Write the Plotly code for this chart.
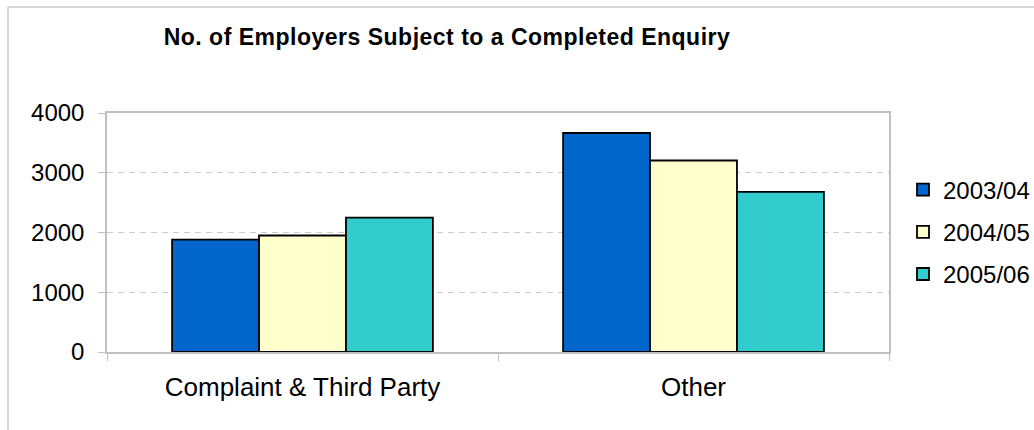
import plotly.graph_objects as go

categories = ["Complaint & Third Party", "Other"]
series_names = ["2003/04", "2004/05", "2005/06"]
values_2003 = [1880, 3665]
values_2004 = [1950, 3205]
values_2005 = [2250, 2680]
colors = ["#0066CC", "#FFFFCC", "#33CCCC"]
y_ticks = [0, 1000, 2000, 3000, 4000]
title_text = "No. of Employers Subject to a Completed Enquiry"

W, H = 1034, 430
L, R, T, B = 107, 889, 113, 352
FONT = "Liberation Sans, Arial, sans-serif"

fig = go.Figure()
for name, vals, col in zip(series_names, [values_2003, values_2004, values_2005], colors):
    fig.add_trace(go.Bar(
        x=categories, y=vals, name=name, legendgroup=name,
        marker=dict(color=col, line=dict(color="#000000", width=1.8)),
    ))

def px_x(p):
    return (p - L) / (R - L)

def px_y(p):
    return (B - p) / (B - T)

fig.update_layout(
    width=W, height=H,
    margin=dict(l=L, r=W - R, t=T, b=H - B, pad=0, autoexpand=False),
    paper_bgcolor="white", plot_bgcolor="white",
    barmode="group", bargap=0.333, bargroupgap=0,
    font=dict(family=FONT, size=24, color="#000000"),
    title=dict(text="<b>" + title_text + "</b>", x=px_x(447), xanchor="center",
               y=1 - 37 / H, yanchor="middle", xref="paper",
               font=dict(size=23, family=FONT, color="#000000")),
    legend=dict(x=903 / W, xref="container", xanchor="left",
                y=px_y(232), yref="paper", yanchor="middle",
                font=dict(size=24), tracegroupgap=8, bgcolor="rgba(0,0,0,0)",
                itemwidth=30),
    showlegend=True,
    xaxis=dict(showline=True, linecolor="#C0C0C0", linewidth=1.5, mirror=True,
               ticks="outside", tickson="boundaries", ticklen=7, tickcolor="#C0C0C0",
               showgrid=False, tickfont=dict(size=26), ticklabelstandoff=11),
    yaxis=dict(range=[0, 4000], tickvals=y_ticks, showline=True, linecolor="#C0C0C0",
               linewidth=1.5, mirror=True, ticks="outside", ticklen=7, tickcolor="#C0C0C0",
               showgrid=True, gridcolor="#CCCCCC", griddash="6px,5px", gridwidth=1,
               zeroline=False, tickfont=dict(size=24), ticklabelstandoff=9),
)

# outer chart border (top and left visible)
fig.add_shape(type="line", xref="paper", yref="paper",
              x0=px_x(8), x1=px_x(8), y0=px_y(7), y1=px_y(440),
              line=dict(color="#C8C8C8", width=1.5))
fig.add_shape(type="line", xref="paper", yref="paper",
              x0=px_x(8), x1=px_x(1040), y0=px_y(7), y1=px_y(7),
              line=dict(color="#C8C8C8", width=1.5))

post = """
document.body.style.margin = '0';
document.body.style.padding = '0';
var t = document.querySelector('.gtitle');
if (t) { t.style.letterSpacing = '0.5px'; }
"""
fig.write_html("out.html", post_script=post, config={"displayModeBar": False})
